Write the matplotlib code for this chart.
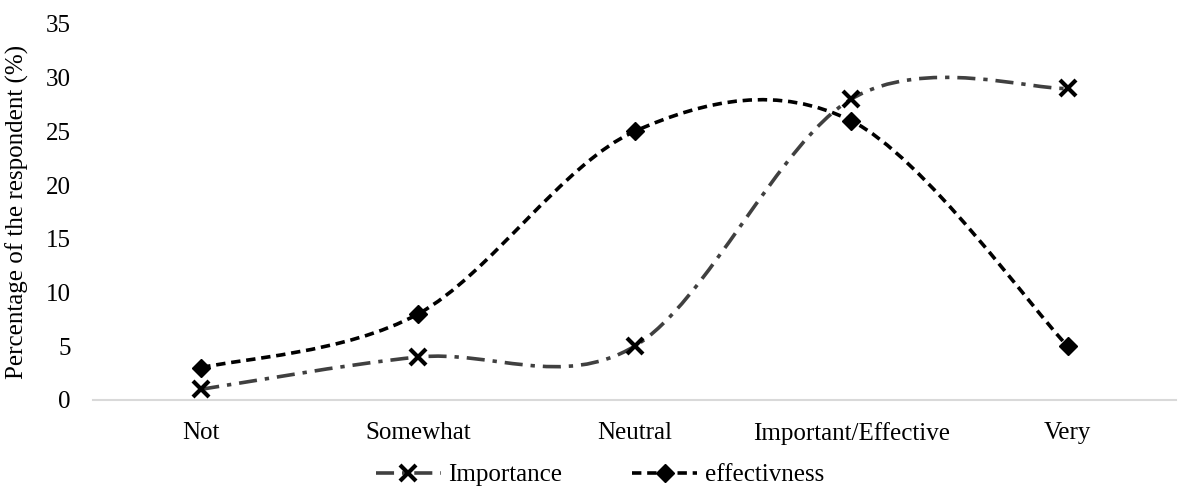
import matplotlib
matplotlib.use("Agg")
import matplotlib.pyplot as plt
from matplotlib.path import Path
from matplotlib.patches import PathPatch
from matplotlib.lines import Line2D
import numpy as np

categories = ["Not", "Somewhat", "Neutral", "Important/Effective", "Very"]
importance = [1, 4, 5, 28, 29]
effectiveness = [3, 8, 25, 26, 5]
yticks = [0, 5, 10, 15, 20, 25, 30, 35]

plt.rcParams['font.family'] = ['Liberation Serif', 'DejaVu Serif']
FS = 18

fig = plt.figure(figsize=(11.81, 4.92), dpi=100)
ax = fig.add_axes([93/1181, 92/492, (1176-93)/1181, (400-24)/492])


def smooth_path(xs, ys):
    # Excel-like smoothed line: cubic Bezier with Catmull-Rom style control points
    pts = np.column_stack([xs, ys]).astype(float)
    n = len(pts)
    verts = [pts[0]]
    codes = [Path.MOVETO]
    for i in range(n - 1):
        p0 = pts[i - 1] if i > 0 else pts[i]
        p1 = pts[i]
        p2 = pts[i + 1]
        p3 = pts[i + 2] if i + 2 < n else pts[i + 1]
        c1 = p1 + (p2 - p0) / 6.0
        c2 = p2 - (p3 - p1) / 6.0
        verts += [c1, c2, p2]
        codes += [Path.CURVE4] * 3
    return Path(verts, codes)


x = np.arange(len(categories))
imp_color = "#404040"
imp_ls = (0, (5, 2.2, 1.2, 2.2))
eff_ls = (0, (2.6, 1.6))

ax.add_patch(PathPatch(smooth_path(x, importance), facecolor="none", edgecolor=imp_color,
                       lw=2.6, linestyle=imp_ls, capstyle="butt", zorder=3))
ax.add_patch(PathPatch(smooth_path(x, effectiveness), facecolor="none", edgecolor="black",
                       lw=2.6, linestyle=eff_ls, capstyle="butt", zorder=3))
ax.plot(x, importance, linestyle="none", marker="x", ms=11, mew=3, color="black", zorder=4)
ax.plot(x, effectiveness, linestyle="none", marker="D", ms=9.5, color="black", zorder=4)

ax.set_xlim(-0.5, len(categories) - 0.5)
ax.set_ylim(0, 35)
ax.set_yticks(yticks)
ax.set_xticks(x)
ax.set_xticklabels(categories)
for s in ["top", "right", "left"]:
    ax.spines[s].set_visible(False)
ax.spines["bottom"].set_color("#d9d9d9")
ax.spines["bottom"].set_linewidth(1.5)
ax.tick_params(axis="both", length=0, labelsize=FS, colors="#000000")
ax.tick_params(axis="x", pad=16)
ax.tick_params(axis="y", pad=16)
ax.set_ylabel("Percentage of the respondent (%)", fontsize=FS, labelpad=12)

handles = [
    Line2D([0], [0], color=imp_color, lw=2.6, linestyle=(0, (5, 2.2, 1.2, 2.2)), marker="x",
           ms=11, mew=3, mec="black"),
    Line2D([0], [0], color="black", lw=2.6, linestyle=eff_ls, marker="D", ms=9.5, mfc="black", mec="black"),
]
fig.legend(handles, ["Importance", "effectivness"], loc="center", bbox_to_anchor=(600/1181, 1 - 475/492),
           ncol=2, frameon=False, fontsize=FS, handlelength=2.6, columnspacing=2.8, handletextpad=0.3)

fig.savefig("out.png", dpi=100)
